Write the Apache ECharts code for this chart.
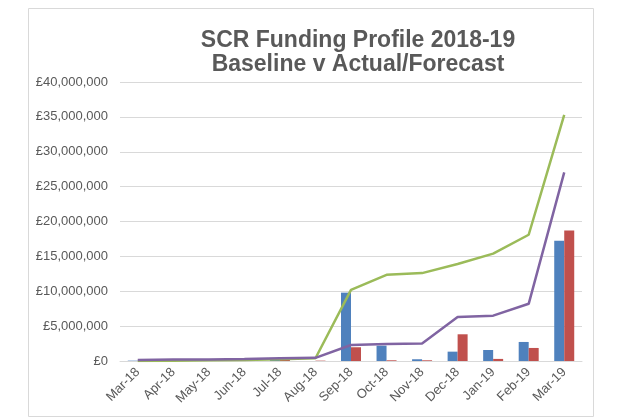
<!DOCTYPE html>
<html><head><meta charset="utf-8">
<script src="https://cdn.jsdelivr.net/npm/echarts@6/dist/echarts.min.js"></script>
<style>html,body{margin:0;padding:0;background:#fff}#c{width:621px;height:419px}</style>
</head><body><div id="c"></div>
<script>
const categories = ['Mar-18','Apr-18','May-18','Jun-18','Jul-18','Aug-18','Sep-18','Oct-18','Nov-18','Dec-18','Jan-19','Feb-19','Mar-19'];
const actualBlue = [50000, 0, 0, 0, 200000, 0, 9800000, 2200000, 250000, 1340000, 1580000, 2730000, 17240000];
const forecastRed = [0, 0, 0, 0, 150000, 50000, 1970000, 100000, 100000, 3830000, 300000, 1870000, 18700000];
const cumGreen = [0, 50000, 100000, 150000, 250000, 400000, 10200000, 12360000, 12600000, 13900000, 15400000, 18100000, 35300000];
const cumPurple = [150000, 200000, 220000, 300000, 400000, 450000, 2300000, 2450000, 2500000, 6300000, 6500000, 8200000, 27050000];
const yTicks = [0, 5000000, 10000000, 15000000, 20000000, 25000000, 30000000, 35000000, 40000000];

const chart = echarts.init(document.getElementById('c'));
const fmt = v => '£' + v.toLocaleString('en-GB');
chart.setOption({
  animation: false,
  textStyle: {fontFamily: 'Liberation Sans, Arial, sans-serif'},
  graphic: [{type:'rect', shape:{x:28.5,y:8.5,width:565,height:408}, style:{fill:'none', stroke:'#d9d9d9', lineWidth:1}}],
  title: {
    text: 'SCR Funding Profile 2018-19\nBaseline v Actual/Forecast',
    left: 353, top: 24, textAlign: 'center',
    textStyle: {fontSize: 23, fontWeight: 'bold', color: '#595959', lineHeight: 24, fontFamily: 'Liberation Sans, Arial, sans-serif'}
  },
  grid: {left: 120, right: 39, top: 82, bottom: 58, containLabel: false},
  xAxis: {
    type: 'category', data: categories,
    axisLine: {lineStyle: {color: '#d9d9d9'}},
    axisTick: {show: false},
    axisLabel: {rotate: 45, color: '#595959', fontSize: 13, interval: 0, margin: 9}
  },
  yAxis: {
    type: 'value', min: yTicks[0], max: yTicks[yTicks.length-1], interval: 5000000,
    axisLine: {show: false}, axisTick: {show: false},
    splitLine: {lineStyle: {color: '#d9d9d9'}},
    axisLabel: {color: '#595959', fontSize: 13, margin: 12, formatter: fmt}
  },
  series: [
    {type: 'bar', data: actualBlue, barWidth: 10, barGap: '0%', itemStyle: {color: '#4F81BD'}},
    {type: 'bar', data: forecastRed, barWidth: 10, barGap: '0%', itemStyle: {color: '#C0504D'}},
    {type: 'line', data: cumGreen, symbol: 'none', lineStyle: {color: '#9BBB59', width: 2.5}, z: 3},
    {type: 'line', data: cumPurple, symbol: 'none', lineStyle: {color: '#8064A2', width: 2.5}, z: 4}
  ]
});
</script></body></html>
